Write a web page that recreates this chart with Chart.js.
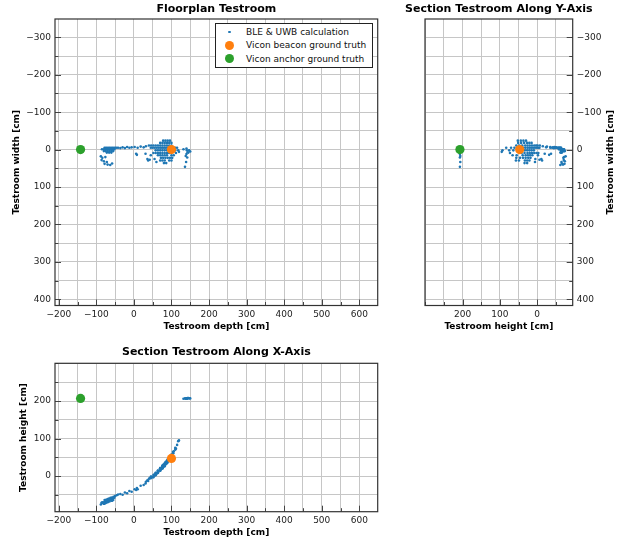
<!DOCTYPE html>
<html>
<head>
<meta charset="utf-8">
<script src="https://cdn.jsdelivr.net/npm/chart.js@4.4.1/dist/chart.umd.min.js"></script>
<style>
  body { margin: 0; background: #fff; width: 617px; height: 544px; position: relative; overflow: hidden; font-family: "DejaVu Sans", sans-serif; }
  canvas { position: absolute; }
  #legend { position: absolute; left: 215px; top: 23px; width: 158px; height: 45px; box-sizing: border-box;
            border: 1px solid #222; background: #fff; font-size: 9px; color: #111; }
  #legend .row { position: absolute; left: 0; height: 12px; line-height: 12px; white-space: nowrap; }
  #legend .dot { position: absolute; border-radius: 50%; }
  #legend .txt { position: absolute; left: 30px; top: 0; }
</style>
</head>
<body>
<canvas id="c-floor" width="390" height="340" style="left:0;top:0"></canvas>
<canvas id="c-secy" width="227" height="340" style="left:390px;top:0"></canvas>
<canvas id="c-secx" width="390" height="204" style="left:0;top:340px"></canvas>
<div id="legend"></div>
<script>
// Testroom positions, all in cm: [depth, width, height]
const bleLabel = "BLE & UWB calculation";
const blePoints = [
  // cluster near the start of the swing
  [-78,-5,-64],[-74,-5,-63],[-70,-5,-61],[-66,-5,-60],[-62,-5,-58],[-58,-5,-57],[-54,-5,-55],[-50,-5,-53],[-46,-5,-51],[-42,-5,-49],
  [-85,-1,-72],[-80,-1,-70],[-76,-1,-68],[-72,-1,-67],[-68,-1,-65],[-64,-1,-64],[-60,-1,-62],[-56,-1,-60],[-52,-1,-58],
  [-80,4,-74],[-75,4,-72],[-70,4,-70],[-65,4,-68],[-60,4,-66],[-55,4,-64],
  [-72,8,-66],[-66,8,-64],[-60,8,-62],
  [-88,18,-76],[-84,22,-70],[-76,20,-72],[-86,28,-71],[-80,31,-74],[-72,33,-65],[-78,38,-73],[-70,40,-69],[-63,41,-62],[-58,37,-66],
  // sparse middle part
  [-36,-4,-48],[-30,-6,-50],[-24,-4,-44],[-18,-7,-46],[-12,-5,-40],[-6,-6,-42],[2,-7,-35],[10,-5,-35],[18,-8,-26],[26,-6,-24],[32,-9,-15],
  [6,11,-37],[8,14,-32],[31,11,-20],[36,25,-11],[38,29,-13],[42,27,-6],
  // cluster around the beacon
  [78,-24,30],[84,-24,37],[90,-24,44],[96,-24,52],
  [70,-18,15],[76,-18,21],[82,-18,27],[88,-18,35],[94,-18,43],[100,-18,51],
  [40,-11,-7],[46,-11,-1],[52,-11,3],[58,-11,8],[64,-11,14],[70,-11,20],[76,-11,26],[82,-11,32],[88,-11,40],[94,-11,48],[100,-11,56],
  [45,-5,-6],[50,-5,-3],[55,-5,1],[60,-5,6],[65,-5,11],[70,-5,16],[75,-5,21],[80,-5,26],[85,-5,32],[90,-5,38],[95,-5,45],[105,-5,61],[110,-5,70],[115,-5,83],
  [58,2,9],[64,2,15],[70,2,21],[76,2,27],[82,2,33],[88,2,41],[96,2,51],[104,2,64],[110,2,75],[118,2,93],[120,6,95],
  [52,9,-3],[58,9,2],[64,9,8],[70,9,14],[76,9,20],[82,9,26],[88,9,34],[94,9,42],[112,9,73],
  [64,15,13],[70,15,19],[76,15,25],[82,15,31],[88,15,39],[100,15,55],[106,15,66],
  [72,22,18],[78,22,24],[84,22,31],[90,22,38],[96,22,46],[102,22,56],
  [70,29,21],[76,29,27],[82,29,33],[94,29,49],[100,29,57],
  [80,36,27],[86,36,34],
  [55,25,5],[45,15,-2],[60,33,6],
  // outliers up at anchor height
  [140,-3,207],[141,2,206],[143,7,208],[140,12,207],[138,17,206],[142,21,207],[139,33,206],[136,46,207],[147,2,207],[145,8,208],[132,-1,206],[150,5,207]
];
const beaconLabel = "Vicon beacon ground truth";
const beaconTruth = [[100, 0, 47]];
const anchorLabel = "Vicon anchor ground truth";
const anchorTruth = [[-142, 0, 207]];

const depthTicks = [-200, -100, 0, 100, 200, 300, 400, 500, 600];
const widthTicks = [-300, -200, -100, 0, 100, 200, 300, 400];
const heightTicks = [0, 100, 200];
const gridStep = 50;

const depthRange = [-210, 649];
const widthRange = [-349, 416.5];
const heightRange = [-95, 300.5];

const COL = { ble: "#1f77b4", beacon: "#ff7f0e", anchor: "#2ca02c" };
const IDX = { depth: 0, width: 1, height: 2 };

Chart.defaults.font.family = '"DejaVu Sans", sans-serif';
Chart.defaults.font.size = 9;
Chart.defaults.color = "#222";

const fmt = (v) => (v < 0 ? "\u2212" + Math.abs(v) : String(v));

function project(pts, xk, yk) {
  return pts.map((p) => ({ x: p[IDX[xk]], y: p[IDX[yk]] }));
}

function datasets(xk, yk) {
  return [
    { label: bleLabel, data: project(blePoints, xk, yk), backgroundColor: COL.ble, pointRadius: 1.3, pointBorderWidth: 0, order: 3 },
    { label: beaconLabel, data: project(beaconTruth, xk, yk), backgroundColor: COL.beacon, pointRadius: 4.6, pointBorderWidth: 0, order: 2 },
    { label: anchorLabel, data: project(anchorTruth, xk, yk), backgroundColor: COL.anchor, pointRadius: 4.6, pointBorderWidth: 0, order: 1 },
  ];
}

function axis(range, labels, extra) {
  return Object.assign({
    type: "linear",
    min: range[0],
    max: range[1],
    afterBuildTicks: (s) => {
      const t = [];
      for (let v = Math.ceil(range[0] / gridStep) * gridStep; v <= range[1]; v += gridStep) t.push({ value: v });
      s.ticks = t;
    },
    ticks: { autoSkip: false, maxRotation: 0, padding: 4, color: "#222",
             callback: (v) => (labels.includes(v) ? fmt(v) : "") },
    grid: { color: "#c6c6c6", lineWidth: 1, drawTicks: false },
    border: { display: false },
  }, extra);
}

function axisTitle(text, pad) {
  return { display: true, text, color: "#000", font: { size: 9, weight: "bold" }, padding: pad };
}

// box around the plot, inward tick marks, and optional titles that chart.js cannot place
const framePlugin = {
  id: "frame",
  afterDatasetsDraw(chart, _a, opts) {
    const { ctx, chartArea: a } = chart;
    ctx.save();
    ctx.strokeStyle = "#444";
    ctx.lineWidth = 1;
    Object.values(chart.scales).forEach((s) => {
      const labels = s.options.majorValues || [];
      s.ticks.forEach((t) => {
        const len = labels.includes(t.value) ? 6 : 3.5;
        const p = Math.round(s.getPixelForValue(t.value)) + 0.5;
        ctx.beginPath();
        if (s.position === "bottom") { ctx.moveTo(p, a.bottom); ctx.lineTo(p, a.bottom - len); }
        else if (s.position === "left") { ctx.moveTo(a.left, p); ctx.lineTo(a.left + len, p); }
        else if (s.position === "right") { ctx.moveTo(a.right, p); ctx.lineTo(a.right - len, p); }
        ctx.stroke();
      });
    });
    ctx.strokeStyle = "#333";
    ctx.lineWidth = 1.2;
    ctx.strokeRect(a.left, a.top, a.right - a.left, a.bottom - a.top);
    ctx.fillStyle = "#000";
    ctx.textAlign = "center";
    ctx.textBaseline = "middle";
    if (opts && opts.title) {
      ctx.font = 'bold 11px "DejaVu Sans", sans-serif';
      ctx.fillText(opts.title, (a.left + a.right) / 2, 9.6);
    }
    if (opts && opts.rightTitle) {
      ctx.translate(chart.width - 6.5, (a.top + a.bottom) / 2);
      ctx.rotate(-Math.PI / 2);
      ctx.font = 'bold 9px "DejaVu Sans", sans-serif';
      ctx.fillText(opts.rightTitle, 0, 0);
    }
    ctx.restore();
  },
};

function baseOptions(title, titlePad, padding) {
  return {
    responsive: false,
    animation: false,
    events: [],
    layout: { padding },
    plugins: {
      legend: { display: false },
      tooltip: { enabled: false },
      title: { display: !!title, text: title, fullSize: false, color: "#000",
               font: { size: 11, weight: "bold" }, padding: titlePad },
    },
  };
}

// Floorplan: depth vs width
const floorOpts = baseOptions("Floorplan Testroom", { top: 3, bottom: 2.8 }, { left: 0, right: 12.3, top: 0, bottom: 0 });
floorOpts.scales = {
  x: axis(depthRange, depthTicks, { position: "bottom", majorValues: depthTicks, afterFit: (s) => { s.height = 34.5; },
          title: axisTitle("Testroom depth [cm]", { top: 0, bottom: 8 }) }),
  y: axis(widthRange, widthTicks, { position: "left", reverse: true, majorValues: widthTicks, afterFit: (s) => { s.width = 55; },
          title: axisTitle("Testroom width [cm]", { top: 11, bottom: 0 }) }),
};
const floorChart = new Chart(document.getElementById("c-floor"), {
  type: "scatter", data: { datasets: datasets("depth", "width") }, options: floorOpts, plugins: [framePlugin],
});

// Section along Y: height vs width (title wider than the plot, drawn by the frame plugin)
const secyOpts = baseOptions("", { top: 0, bottom: 0 }, { left: 35, right: 0, top: 19, bottom: 0 });
secyOpts.plugins.frame = { title: "Section Testroom Along Y-Axis", rightTitle: "Testroom width [cm]" };
secyOpts.scales = {
  x: axis(heightRange, heightTicks, { position: "bottom", reverse: true, majorValues: heightTicks, afterFit: (s) => { s.height = 34.5; },
          title: axisTitle("Testroom height [cm]", { top: 0, bottom: 8 }) }),
  y: axis(widthRange, widthTicks, { position: "right", reverse: true, majorValues: widthTicks, afterFit: (s) => { s.width = 44.3; } }),
};
new Chart(document.getElementById("c-secy"), {
  type: "scatter", data: { datasets: datasets("height", "width") }, options: secyOpts, plugins: [framePlugin],
});

// Section along X: depth vs height
const secxOpts = baseOptions("Section Testroom Along X-Axis", { top: 6, bottom: 4.1 }, { left: 0, right: 12.3, top: 0, bottom: 0 });
secxOpts.scales = {
  x: axis(depthRange, depthTicks, { position: "bottom", majorValues: depthTicks, afterFit: (s) => { s.height = 32.3; },
          title: axisTitle("Testroom depth [cm]", { top: 0, bottom: 6 }) }),
  y: axis(heightRange, heightTicks, { position: "left", majorValues: heightTicks, afterFit: (s) => { s.width = 55; },
          title: axisTitle("Testroom height [cm]", { top: 18, bottom: 0 }) }),
};
new Chart(document.getElementById("c-secx"), {
  type: "scatter", data: { datasets: datasets("depth", "height") }, options: secxOpts, plugins: [framePlugin],
});

// Legend inside the floorplan, built from its datasets
const legend = document.getElementById("legend");
floorChart.data.datasets.forEach((ds, i) => {
  const row = document.createElement("div");
  row.className = "row";
  row.style.top = (2 + i * 13.4) + "px";
  row.style.width = "100%";
  const d = document.createElement("span");
  const r = ds.pointRadius;
  d.className = "dot";
  d.style.width = d.style.height = (2 * r) + "px";
  d.style.left = (13.5 - r) + "px";
  d.style.top = (6 - r) + "px";
  d.style.background = ds.backgroundColor;
  const t = document.createElement("span");
  t.className = "txt";
  t.textContent = ds.label;
  row.appendChild(d);
  row.appendChild(t);
  legend.appendChild(row);
});
</script>
</body>
</html>
